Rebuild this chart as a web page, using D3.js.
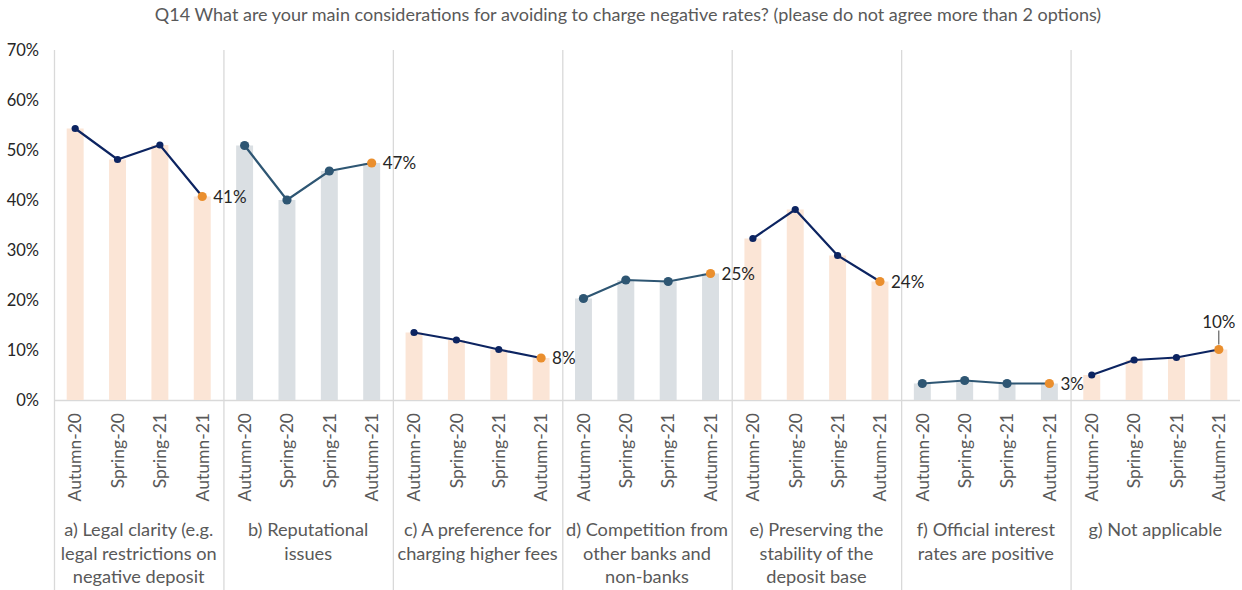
<!DOCTYPE html>
<html>
<head>
<meta charset="utf-8">
<script src="https://cdn.jsdelivr.net/npm/d3@7"></script>
<style>
  body { margin: 0; background: #fff; }
  svg { font-family: Lato, "Open Sans", sans-serif; }
</style>
</head>
<body>
<div id="container"></div>
<script>
const w = 1242;
const h = 590;

const title = 'Q14 What are your main considerations for avoiding to charge negative rates? (please do not agree more than 2 options)';

const periods = ['Autumn-20', 'Spring-20', 'Spring-21', 'Autumn-21'];

const groups = [
  ['a) Legal clarity (e.g.', 'legal restrictions on', 'negative deposit'],
  ['b) Reputational', 'issues'],
  ['c) A preference for', 'charging higher fees'],
  ['d) Competition from', 'other banks and', 'non-banks'],
  ['e) Preserving the', 'stability of the', 'deposit base'],
  ['f) Official interest', 'rates are positive'],
  ['g) Not applicable']
];

// shares per group, in the order of periods
const valA = [0.543, 0.481, 0.510, 0.407];
const valB = [0.509, 0.400, 0.458, 0.474];
const valC = [0.135, 0.120, 0.101, 0.084];
const valD = [0.203, 0.240, 0.237, 0.253];
const valE = [0.323, 0.381, 0.289, 0.237];
const valF = [0.033, 0.039, 0.033, 0.033];
const valG = [0.050, 0.080, 0.085, 0.101];
const values = [valA, valB, valC, valD, valE, valF, valG];

const yTicks = [0, 0.1, 0.2, 0.3, 0.4, 0.5, 0.6, 0.7];

const plotL = 54, plotR = 1240, plotT = 50, plotB = 400;

const svg = d3.select('#container').append('svg')
    .attr('width', w)
    .attr('height', h);

const x = d3.scaleBand()
    .domain(d3.range(groups.length))
    .range([plotL, plotR]);

const xInner = d3.scaleBand()
    .domain(periods)
    .range([0, x.bandwidth()])
    .paddingInner(0.6)
    .paddingOuter(0.3);

const y = d3.scaleLinear()
    .domain([0, 0.7])
    .range([plotB, plotT]);

const cx = p => xInner(p) + xInner.bandwidth() / 2;

// title
svg.append('text')
    .attr('x', 628)
    .attr('y', 21)
    .attr('text-anchor', 'middle')
    .attr('fill', '#595959')
    .attr('font-size', 18)
    .text(title);

// y axis labels
const yAxis = d3.axisLeft(y)
    .tickValues(yTicks)
    .tickFormat(d3.format('.0%'))
    .tickSize(0)
    .tickPadding(0);

svg.append('g')
    .attr('transform', `translate(39,0)`)
    .call(yAxis)
    .call(g => g.select('.domain').remove())
    .call(g => g.selectAll('text')
        .attr('font-family', 'Lato, sans-serif')
        .attr('font-size', 16.5)
        .attr('fill', '#262626'));

// group separators
svg.append('g')
    .selectAll('line')
    .data(d3.range(groups.length))
    .join('line')
    .attr('x1', d => x(d) + 0.5)
    .attr('x2', d => x(d) + 0.5)
    .attr('y1', plotT)
    .attr('y2', h)
    .attr('stroke', '#d9d9d9')
    .attr('stroke-width', 1.3);

svg.append('line')
    .attr('x1', plotL)
    .attr('x2', plotR)
    .attr('y1', plotB + 0.5)
    .attr('y2', plotB + 0.5)
    .attr('stroke', '#d9d9d9')
    .attr('stroke-width', 1.5);

const marks = svg.append('g');
const labels = svg.append('g');

groups.forEach((lines, gi) => {
  const navy = gi % 2 === 0;
  const barColor = navy ? '#fbe5d6' : '#dadfe3';
  const lineColor = navy ? '#0c2461' : '#2e5673';
  const r = navy ? 3.6 : 4.6;
  const vals = values[gi];
  const g = marks.append('g').attr('transform', `translate(${x(gi)},0)`);
  const gl = labels.append('g').attr('transform', `translate(${x(gi)},0)`);

  g.selectAll('rect')
      .data(vals)
      .join('rect')
      .attr('x', (d, i) => xInner(periods[i]))
      .attr('y', d => y(d))
      .attr('width', xInner.bandwidth())
      .attr('height', d => plotB - y(d))
      .attr('fill', barColor);

  const line = d3.line()
      .x((d, i) => cx(periods[i]))
      .y(d => y(d));

  g.append('path')
      .datum(vals)
      .attr('d', line)
      .attr('fill', 'none')
      .attr('stroke', lineColor)
      .attr('stroke-width', 2.2);

  g.selectAll('circle')
      .data(vals)
      .join('circle')
      .attr('cx', (d, i) => cx(periods[i]))
      .attr('cy', d => y(d))
      .attr('r', (d, i) => i === vals.length - 1 ? 4.6 : r)
      .attr('fill', (d, i) => i === vals.length - 1 ? '#ea8f2e' : lineColor);

  // label on the last point
  const last = vals[vals.length - 1];
  const lx = cx(periods[periods.length - 1]);
  const pct = d3.format('.0%')(last);
  if (gi === groups.length - 1) {
    gl.append('line')
        .attr('x1', lx).attr('x2', lx)
        .attr('y1', y(last) - 5).attr('y2', y(last) - 19)
        .attr('stroke', '#404040').attr('stroke-width', 1);
    gl.append('text')
        .attr('x', lx)
        .attr('y', y(last) - 22)
        .attr('text-anchor', 'middle')
        .attr('font-size', 17)
        .attr('fill', '#262626')
        .text(pct);
  } else {
    gl.append('text')
        .attr('x', lx + 11)
        .attr('y', y(last))
        .attr('dy', '0.36em')
        .attr('font-size', 17)
        .attr('fill', '#262626')
        .text(pct);
  }

  // period tick labels
  gl.selectAll('text.period')
      .data(periods)
      .join('text')
      .attr('class', 'period')
      .attr('transform', p => `translate(${cx(p)},413) rotate(-90)`)
      .attr('text-anchor', 'end')
      .attr('dy', '0.36em')
      .attr('font-size', 17.5)
      .attr('fill', '#595959')
      .text(p => p);

  // category label
  gl.selectAll('text.cat')
      .data(lines)
      .join('text')
      .attr('class', 'cat')
      .attr('x', x.bandwidth() / 2)
      .attr('y', (d, i) => 536 + i * 23.5)
      .attr('text-anchor', 'middle')
      .attr('font-size', 18.2)
      .attr('fill', '#595959')
      .text(d => d);
});
</script>
</body>
</html>
